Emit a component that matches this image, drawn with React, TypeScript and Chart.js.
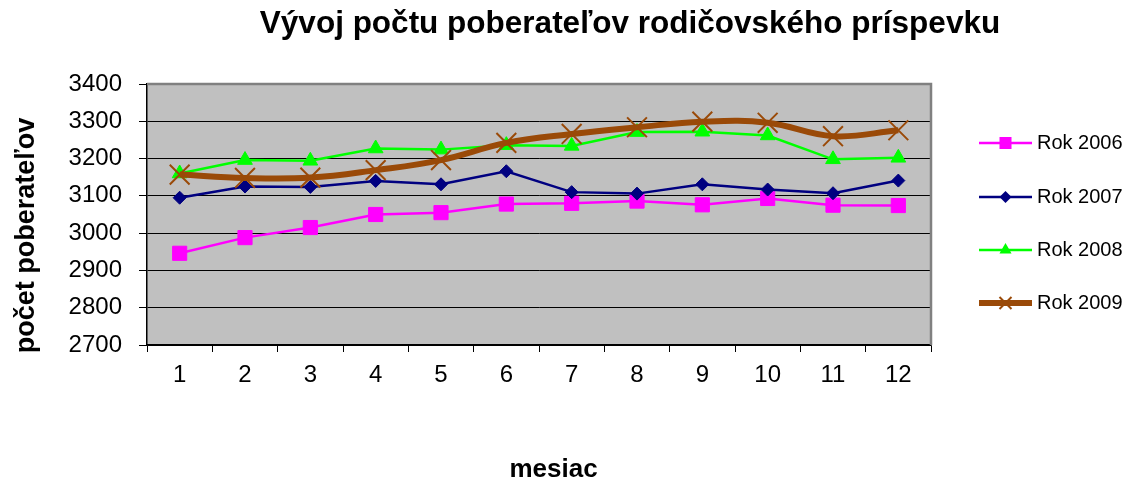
import React, { useEffect, useRef } from "react";
import { Chart, registerables } from "chart.js";

Chart.register(...registerables);

// ---- data ----
const months = ["1", "2", "3", "4", "5", "6", "7", "8", "9", "10", "11", "12"];
const rok2006 = [2946, 2988, 3015, 3050, 3055, 3078, 3080, 3086, 3076, 3093, 3075, 3074];
const rok2007 = [3095, 3125, 3124, 3140, 3131, 3166, 3110, 3106, 3131, 3117, 3107, 3141];
const rok2008 = [3160, 3196, 3194, 3227, 3224, 3236, 3234, 3271, 3272, 3262, 3198, 3202];
const rok2009 = [3157, 3148, 3149, 3169, 3196, 3242, 3266, 3284, 3299, 3296, 3260, 3276];
const seriesLabels = ["Rok 2006", "Rok 2007", "Rok 2008", "Rok 2009"];
const yMin = 2700;
const yMax = 3400;
const yStep = 100;

const chartTitle = "Vývoj počtu poberateľov rodičovského príspevku";
const xTitle = "mesiac";
const yTitle = "počet poberateľov";

// ---- styles ----
const FONT = "'Liberation Sans', Arial, Helvetica, sans-serif";
const PINK = "#FF00FF";
const NAVY = "#000080";
const GREEN = "#00FF00";
const BROWN = "#9A4A08";
const PLOT_BG = "#C0C0C0";

type Marker = "rect" | "rectRot" | "triangle" | "crossRot";
const legendStyle: { color: string; marker: Marker; lineWidth: number; r: number }[] = [
  { color: PINK, marker: "rect", lineWidth: 2.5, r: 8.5 },
  { color: NAVY, marker: "rectRot", lineWidth: 2.5, r: 6 },
  { color: GREEN, marker: "triangle", lineWidth: 2.5, r: 7 },
  { color: BROWN, marker: "crossRot", lineWidth: 6, r: 8.5 },
];

function drawMarker(ctx: CanvasRenderingContext2D, m: Marker, x: number, y: number, r: number, color: string) {
  ctx.save();
  ctx.fillStyle = color;
  ctx.strokeStyle = color;
  ctx.beginPath();
  if (m === "rect") {
    const s = Math.SQRT1_2 * r;
    ctx.rect(x - s, y - s, 2 * s, 2 * s);
    ctx.fill();
  } else if (m === "rectRot") {
    ctx.moveTo(x - r, y);
    ctx.lineTo(x, y - r);
    ctx.lineTo(x + r, y);
    ctx.lineTo(x, y + r);
    ctx.closePath();
    ctx.fill();
  } else if (m === "triangle") {
    ctx.moveTo(x, y - r);
    ctx.lineTo(x + 0.866 * r, y + 0.5 * r);
    ctx.lineTo(x - 0.866 * r, y + 0.5 * r);
    ctx.closePath();
    ctx.fill();
  } else {
    const o = Math.SQRT1_2 * r;
    ctx.lineWidth = 2;
    ctx.moveTo(x - o, y - o);
    ctx.lineTo(x + o, y + o);
    ctx.moveTo(x + o, y - o);
    ctx.lineTo(x - o, y + o);
    ctx.stroke();
  }
  ctx.restore();
}

const decorPlugin = {
  id: "decor",
  beforeDraw(chart: any) {
    const { ctx, chartArea: a } = chart;
    ctx.save();
    ctx.fillStyle = "#FFFFFF";
    ctx.fillRect(0, 0, chart.width, chart.height);
    ctx.fillStyle = PLOT_BG;
    ctx.fillRect(a.left, a.top, a.right - a.left, a.bottom - a.top);
    ctx.restore();
  },
  beforeDatasetsDraw(chart: any) {
    const { ctx, chartArea: a } = chart;
    ctx.save();
    ctx.strokeStyle = "#808080";
    ctx.lineWidth = 2.5;
    ctx.beginPath();
    ctx.moveTo(a.left, a.top);
    ctx.lineTo(a.right, a.top);
    ctx.lineTo(a.right, a.bottom);
    ctx.stroke();
    ctx.restore();
  },
  afterDraw(chart: any) {
    const { ctx } = chart;
    ctx.save();
    ctx.fillStyle = "#000000";
    ctx.textAlign = "center";
    ctx.textBaseline = "middle";
    ctx.font = `bold 31.5px ${FONT}`;
    ctx.fillText(chartTitle, 630, 24);
    ctx.font = `bold 26px ${FONT}`;
    ctx.fillText(xTitle, 553.5, 469.5);
    ctx.save();
    ctx.translate(27, 235.5);
    ctx.rotate(-Math.PI / 2);
    ctx.font = `bold 27px ${FONT}`;
    ctx.fillText(yTitle, 0, 0);
    ctx.restore();

    // legend
    const ys = [143, 197, 250, 303];
    seriesLabels.forEach((label, i) => {
      const st = legendStyle[i];
      const y = ys[i];
      ctx.save();
      ctx.strokeStyle = st.color;
      ctx.lineWidth = st.lineWidth;
      ctx.lineCap = "butt";
      ctx.beginPath();
      ctx.moveTo(979, y);
      ctx.lineTo(1032, y);
      ctx.stroke();
      ctx.restore();
      drawMarker(ctx, st.marker, 1005.5, y, st.r, st.color);
      ctx.fillStyle = "#000000";
      ctx.textAlign = "left";
      ctx.textBaseline = "middle";
      ctx.font = `20px ${FONT}`;
      ctx.fillText(label, 1037, y);
    });
    ctx.restore();
  },
};

export default function App() {
  const canvasRef = useRef<HTMLCanvasElement | null>(null);

  useEffect(() => {
    document.body.style.margin = "0";
    const canvas = canvasRef.current;
    if (!canvas) return;
    const chart = new Chart(canvas, {
      type: "line",
      data: {
        labels: months,
        datasets: [
          {
            label: seriesLabels[0],
            data: rok2006,
            borderColor: PINK,
            backgroundColor: PINK,
            borderWidth: 2.5,
            pointStyle: "rect",
            pointRadius: 10,
            pointBorderWidth: 1,
            pointBackgroundColor: PINK,
            pointBorderColor: PINK,
            tension: 0,
            order: 3,
          },
          {
            label: seriesLabels[1],
            data: rok2007,
            borderColor: NAVY,
            backgroundColor: NAVY,
            borderWidth: 2.5,
            pointStyle: "rectRot",
            pointRadius: 6.5,
            pointBorderWidth: 1,
            pointBackgroundColor: NAVY,
            pointBorderColor: NAVY,
            tension: 0,
            order: 2,
          },
          {
            label: seriesLabels[2],
            data: rok2008,
            borderColor: GREEN,
            backgroundColor: GREEN,
            borderWidth: 2.5,
            pointStyle: "triangle",
            pointRadius: 8.5,
            pointBorderWidth: 1,
            pointBackgroundColor: GREEN,
            pointBorderColor: GREEN,
            tension: 0,
            order: 1,
          },
          {
            label: seriesLabels[3],
            data: rok2009,
            borderColor: BROWN,
            backgroundColor: BROWN,
            borderWidth: 6,
            pointStyle: "crossRot",
            pointRadius: 14,
            pointBorderWidth: 2,
            pointBorderColor: BROWN,
            tension: 0.4,
            order: 0,
          },
        ],
      },
      options: {
        animation: false,
        responsive: false,
        devicePixelRatio: 1,
        layout: { padding: { left: 0, top: 84, right: 196, bottom: 0 } },
        plugins: {
          legend: { display: false },
          title: { display: false },
          tooltip: { enabled: false },
        },
        scales: {
          x: {
            type: "category",
            offset: true,
            afterFit(scale: any) {
              scale.height = 139;
            },
            grid: {
              offset: true,
              drawOnChartArea: false,
              drawTicks: true,
              tickLength: 7,
              color: "#000000",
              lineWidth: 1,
            },
            border: { display: true, color: "#000000", width: 1.5 },
            ticks: {
              color: "#000000",
              font: { family: FONT, size: 24 },
              padding: 9,
              maxRotation: 0,
            },
          },
          y: {
            min: yMin,
            max: yMax,
            afterFit(scale: any) {
              scale.width = 147;
            },
            grid: {
              color: "#000000",
              lineWidth: 1,
              drawTicks: true,
              tickLength: 8,
            },
            border: { display: true, color: "#000000", width: 1.5 },
            ticks: {
              stepSize: yStep,
              color: "#000000",
              font: { family: FONT, size: 24 },
              padding: 17,
              callback: (v: any) => String(v),
            },
          },
        },
      },
      plugins: [decorPlugin],
    });
    return () => chart.destroy();
  }, []);

  return (
    <canvas
      ref={canvasRef}
      width={1127}
      height={484}
      style={{ display: "block", width: 1127, height: 484 }}
    />
  );
}
